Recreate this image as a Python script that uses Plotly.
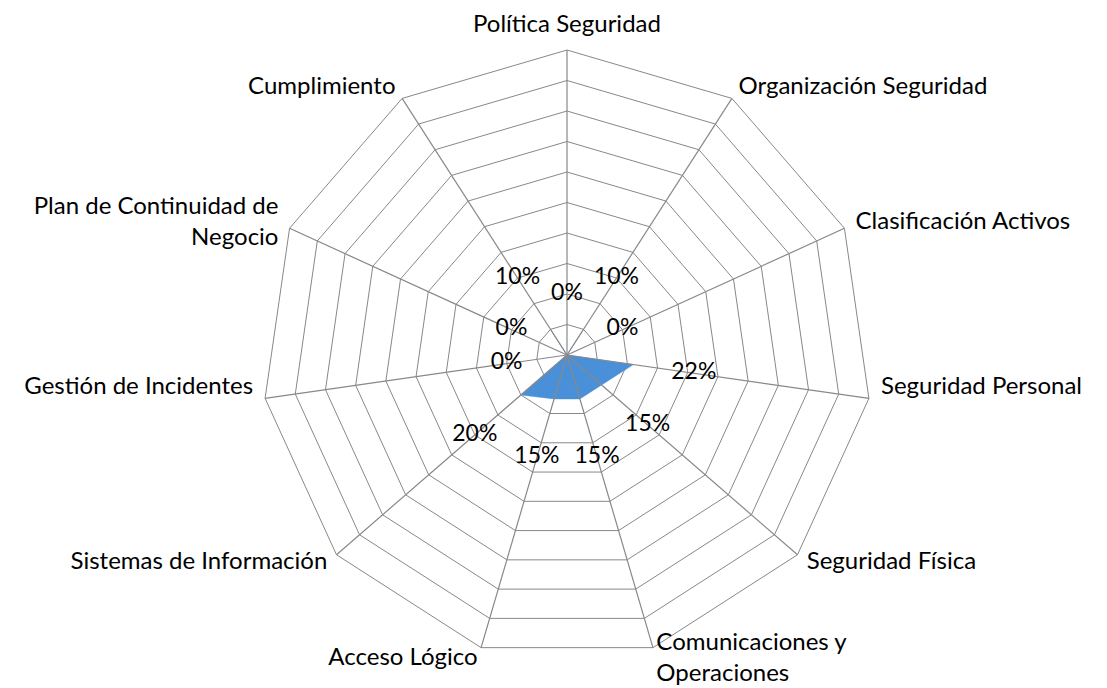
import plotly.graph_objects as go

categories = [
    "Política Seguridad",
    "Organización Seguridad",
    "Clasificación Activos",
    "Seguridad Personal",
    "Seguridad Física",
    "Comunicaciones y Operaciones",
    "Acceso Lógico",
    "Sistemas de Información",
    "Gestión de Incidentes",
    "Plan de Continuidad de Negocio",
    "Cumplimiento",
]
category_labels = [
    "Política Seguridad",
    "Organización Seguridad",
    "Clasificación Activos",
    "Seguridad Personal",
    "Seguridad Física",
    "Comunicaciones y<br>Operaciones",
    "Acceso Lógico",
    "Sistemas de Información",
    "Gestión de Incidentes",
    "Plan de Continuidad de<br>Negocio",
    "Cumplimiento",
]
label_positions = [
    "top center", "middle right", "middle right", "top right", "middle right",
    "middle right", "middle left", "middle left", "top left", "middle left",
    "middle left",
]
values = [0, 10, 0, 22, 15, 15, 15, 20, 0, 0, 10]
value_labels = [f"{v}%" for v in values]
ring_values = list(range(10, 101, 10))

label_offset = 20      # data labels sit outside the point, in axis units
r_max = 100            # outer ring of the chart
r_range = 110          # axis range leaves room for the category labels
cat_label_r = 104

FONT = "Lato, 'Open Sans', sans-serif"
GRID = "#888888"
FILL = "#4a90d9"

fig = go.Figure()

# filled series (drawn under the spokes, over the rings)
fig.add_trace(go.Scatterpolar(
    r=values + [values[0]],
    theta=categories + [categories[0]],
    mode="lines",
    fill="toself",
    fillcolor=FILL,
    line=dict(color=FILL, width=0.5),
    hoverinfo="skip",
    showlegend=False,
))

# spokes from the centre to the outer ring for each category
spoke_r, spoke_t = [], []
for c in categories:
    spoke_r += [0, r_max, None]
    spoke_t += [c, c, c]
fig.add_trace(go.Scatterpolar(
    r=spoke_r,
    theta=spoke_t,
    mode="lines",
    line=dict(color=GRID, width=1.2),
    connectgaps=False,
    hoverinfo="skip",
    showlegend=False,
))

# data labels
fig.add_trace(go.Scatterpolar(
    r=[v + label_offset for v in values],
    theta=categories,
    mode="text",
    text=value_labels,
    textposition="middle center",
    textfont=dict(family=FONT, size=23, color="#000000"),
    hoverinfo="skip",
    showlegend=False,
))

# category labels just outside the outer ring
fig.add_trace(go.Scatterpolar(
    r=[cat_label_r] * len(categories),
    theta=categories,
    mode="text",
    text=category_labels,
    textposition=label_positions,
    textfont=dict(family=FONT, size=24, color="#000000"),
    cliponaxis=False,
    hoverinfo="skip",
    showlegend=False,
))

W, H = 1107, 688
cx, cy, R = 559, 347, 305          # centre / outer-ring radius in px
Rd = R * r_range / r_max           # radius of the full axis range

fig.update_layout(
    width=W,
    height=H,
    margin=dict(l=0, r=0, t=0, b=0),
    paper_bgcolor="white",
    plot_bgcolor="white",
    polar=dict(
        domain=dict(x=[(cx - Rd) / W, (cx + Rd) / W], y=[1 - (cy + Rd) / H, 1 - (cy - Rd) / H]),
        bgcolor="white",
        gridshape="linear",
        radialaxis=dict(
            range=[0, r_range],
            tickvals=ring_values,
            showticklabels=False,
            ticks="",
            showline=False,
            showgrid=True,
            gridcolor=GRID,
            gridwidth=1.2,
        ),
        angularaxis=dict(
            direction="clockwise",
            rotation=90,
            showline=False,
            showgrid=False,
            ticks="",
            showticklabels=False,
        ),
    ),
)

fig.write_html("out.html")
